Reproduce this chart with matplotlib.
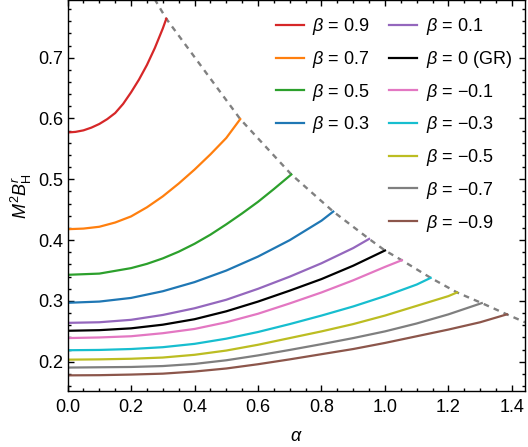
import numpy as np
import matplotlib
matplotlib.use("Agg")
import matplotlib.pyplot as plt
from matplotlib.ticker import MultipleLocator
from matplotlib.lines import Line2D

plt.rcParams['font.family'] = ['Liberation Sans', 'DejaVu Sans']
plt.rcParams['mathtext.fontset'] = 'custom'
plt.rcParams['mathtext.rm'] = 'Liberation Sans'
plt.rcParams['mathtext.it'] = 'Liberation Sans:italic'
plt.rcParams['font.size'] = 13

# curves, one per beta
betas = ['0.9', '0.7', '0.5', '0.3', '0.1', '0 (GR)', '\u22120.1', '\u22120.3', '\u22120.5', '\u22120.7', '\u22120.9']
colors = ['#d62728', '#ff7f0e', '#2ca02c', '#1f77b4', '#9467bd', 'black',
          '#e377c2', '#17becf', '#bcbd22', '#7f7f7f', '#8c564b']

a_09 = [0, 0.025, 0.05, 0.075, 0.1, 0.125, 0.15, 0.175, 0.2, 0.225, 0.25, 0.275, 0.3, 0.311]
y_09 = [0.577, 0.578, 0.5805, 0.585, 0.591, 0.599, 0.609, 0.624, 0.643, 0.664, 0.688, 0.716, 0.748, 0.764]
a_07 = [0, 0.05, 0.1, 0.15, 0.2, 0.25, 0.3, 0.35, 0.4, 0.45, 0.5, 0.544]
y_07 = [0.418, 0.419, 0.422, 0.429, 0.439, 0.454, 0.472, 0.493, 0.516, 0.541, 0.568, 0.599]
a_05 = [0, 0.1, 0.2, 0.25, 0.3, 0.35, 0.4, 0.45, 0.5, 0.55, 0.6, 0.65, 0.705]
y_05 = [0.343, 0.345, 0.354, 0.361, 0.370, 0.381, 0.394, 0.409, 0.426, 0.444, 0.463, 0.484, 0.508]
a_03 = [0, 0.1, 0.2, 0.3, 0.4, 0.5, 0.6, 0.7, 0.8, 0.837]
y_03 = [0.297, 0.299, 0.305, 0.316, 0.331, 0.350, 0.373, 0.400, 0.432, 0.447]
a_01 = [0, 0.1, 0.2, 0.3, 0.4, 0.5, 0.6, 0.7, 0.8, 0.9, 0.95]
y_01 = [0.264, 0.265, 0.269, 0.277, 0.288, 0.302, 0.320, 0.340, 0.362, 0.387, 0.402]
a_00 = [0, 0.1, 0.2, 0.3, 0.4, 0.5, 0.6, 0.7, 0.8, 0.9, 1.0]
y_00 = [0.251, 0.252, 0.255, 0.261, 0.270, 0.283, 0.299, 0.317, 0.336, 0.358, 0.383]
a_m01 = [0, 0.1, 0.2, 0.3, 0.4, 0.5, 0.6, 0.7, 0.8, 0.9, 1.0, 1.053]
y_m01 = [0.239, 0.240, 0.242, 0.247, 0.254, 0.265, 0.279, 0.296, 0.314, 0.334, 0.356, 0.367]
a_m03 = [0, 0.1, 0.2, 0.3, 0.4, 0.5, 0.6, 0.7, 0.8, 0.9, 1.0, 1.1, 1.144]
y_m03 = [0.219, 0.2195, 0.221, 0.224, 0.2295, 0.238, 0.249, 0.262, 0.276, 0.291, 0.308, 0.327, 0.338]
a_m05 = [0, 0.1, 0.2, 0.3, 0.4, 0.5, 0.6, 0.7, 0.8, 0.9, 1.0, 1.1, 1.2, 1.227]
y_m05 = [0.2035, 0.204, 0.205, 0.207, 0.2115, 0.2185, 0.228, 0.239, 0.250, 0.262, 0.276, 0.292, 0.308, 0.314]
a_m07 = [0, 0.1, 0.2, 0.3, 0.4, 0.5, 0.6, 0.7, 0.8, 0.9, 1.0, 1.1, 1.2, 1.305]
y_m07 = [0.1905, 0.191, 0.1915, 0.193, 0.1965, 0.2025, 0.2105, 0.2195, 0.229, 0.239, 0.250, 0.263, 0.278, 0.2965]
a_m09 = [0, 0.1, 0.2, 0.3, 0.4, 0.5, 0.6, 0.7, 0.8, 0.9, 1.0, 1.1, 1.2, 1.3, 1.384]
y_m09 = [0.1777, 0.178, 0.179, 0.1805, 0.184, 0.189, 0.196, 0.204, 0.2125, 0.221, 0.231, 0.242, 0.253, 0.265, 0.278]

# dashed bound through the curve ends
a_bound = [0.27, 0.311, 0.544, 0.705, 0.837, 0.950, 1.0, 1.053, 1.144, 1.227, 1.305, 1.384, 1.45]
y_bound = [0.80, 0.764, 0.599, 0.508, 0.447, 0.402, 0.383, 0.367, 0.338, 0.314, 0.2965, 0.278, 0.263]

alphas = [a_09, a_07, a_05, a_03, a_01, a_00, a_m01, a_m03, a_m05, a_m07, a_m09]
values = [y_09, y_07, y_05, y_03, y_01, y_00, y_m01, y_m03, y_m05, y_m07, y_m09]

fig = plt.figure(figsize=(5.28, 4.47), dpi=100)
ax = fig.add_axes([0.128, 0.1253, 0.8656, 0.8736])

ax.plot(a_bound, y_bound, color='#808080', lw=1.7, linestyle=(0, (2.4, 2.2)), zorder=1)
lines = []
for a, y, c, b in zip(alphas, values, colors, betas):
    l, = ax.plot(a, y, color=c, lw=1.6, label=r'$\beta$ = ' + b, zorder=2)
    lines.append(l)

ax.set_xlim(0, 1.44)
ax.set_ylim(0.152, 0.794)
ax.xaxis.set_major_locator(MultipleLocator(0.2))
ax.xaxis.set_minor_locator(MultipleLocator(0.05))
ax.yaxis.set_major_locator(MultipleLocator(0.1))
ax.yaxis.set_minor_locator(MultipleLocator(0.02))
ax.tick_params(which='both', direction='in', top=True, right=True, width=1.0)
ax.tick_params(which='major', length=4.5)
ax.tick_params(which='minor', length=2.5)
ax.tick_params(axis='x', pad=6)
ax.tick_params(axis='y', pad=3)
for s in ax.spines.values():
    s.set_linewidth(1.0)

ax.set_xlabel(r'$\alpha$', labelpad=8.5)
ax.set_ylabel(r'$M^2B^r_{\mathrm{H}}$', labelpad=3)

# 4 entries in the first column, 7 in the second
blank = Line2D([], [], color='none')
handles = lines[:4] + [blank] * 3 + lines[4:]
labels = [l.get_label() for l in lines[:4]] + [''] * 3 + [l.get_label() for l in lines[4:]]
ax.legend(handles, labels, ncol=2, frameon=False, loc='upper left',
          bbox_to_anchor=(0.456, 0.96), borderpad=0, borderaxespad=0,
          handlelength=1.55, handletextpad=0.45, columnspacing=1.1,
          labelspacing=0.65, fontsize=13)

fig.savefig('out.png', dpi=100)
